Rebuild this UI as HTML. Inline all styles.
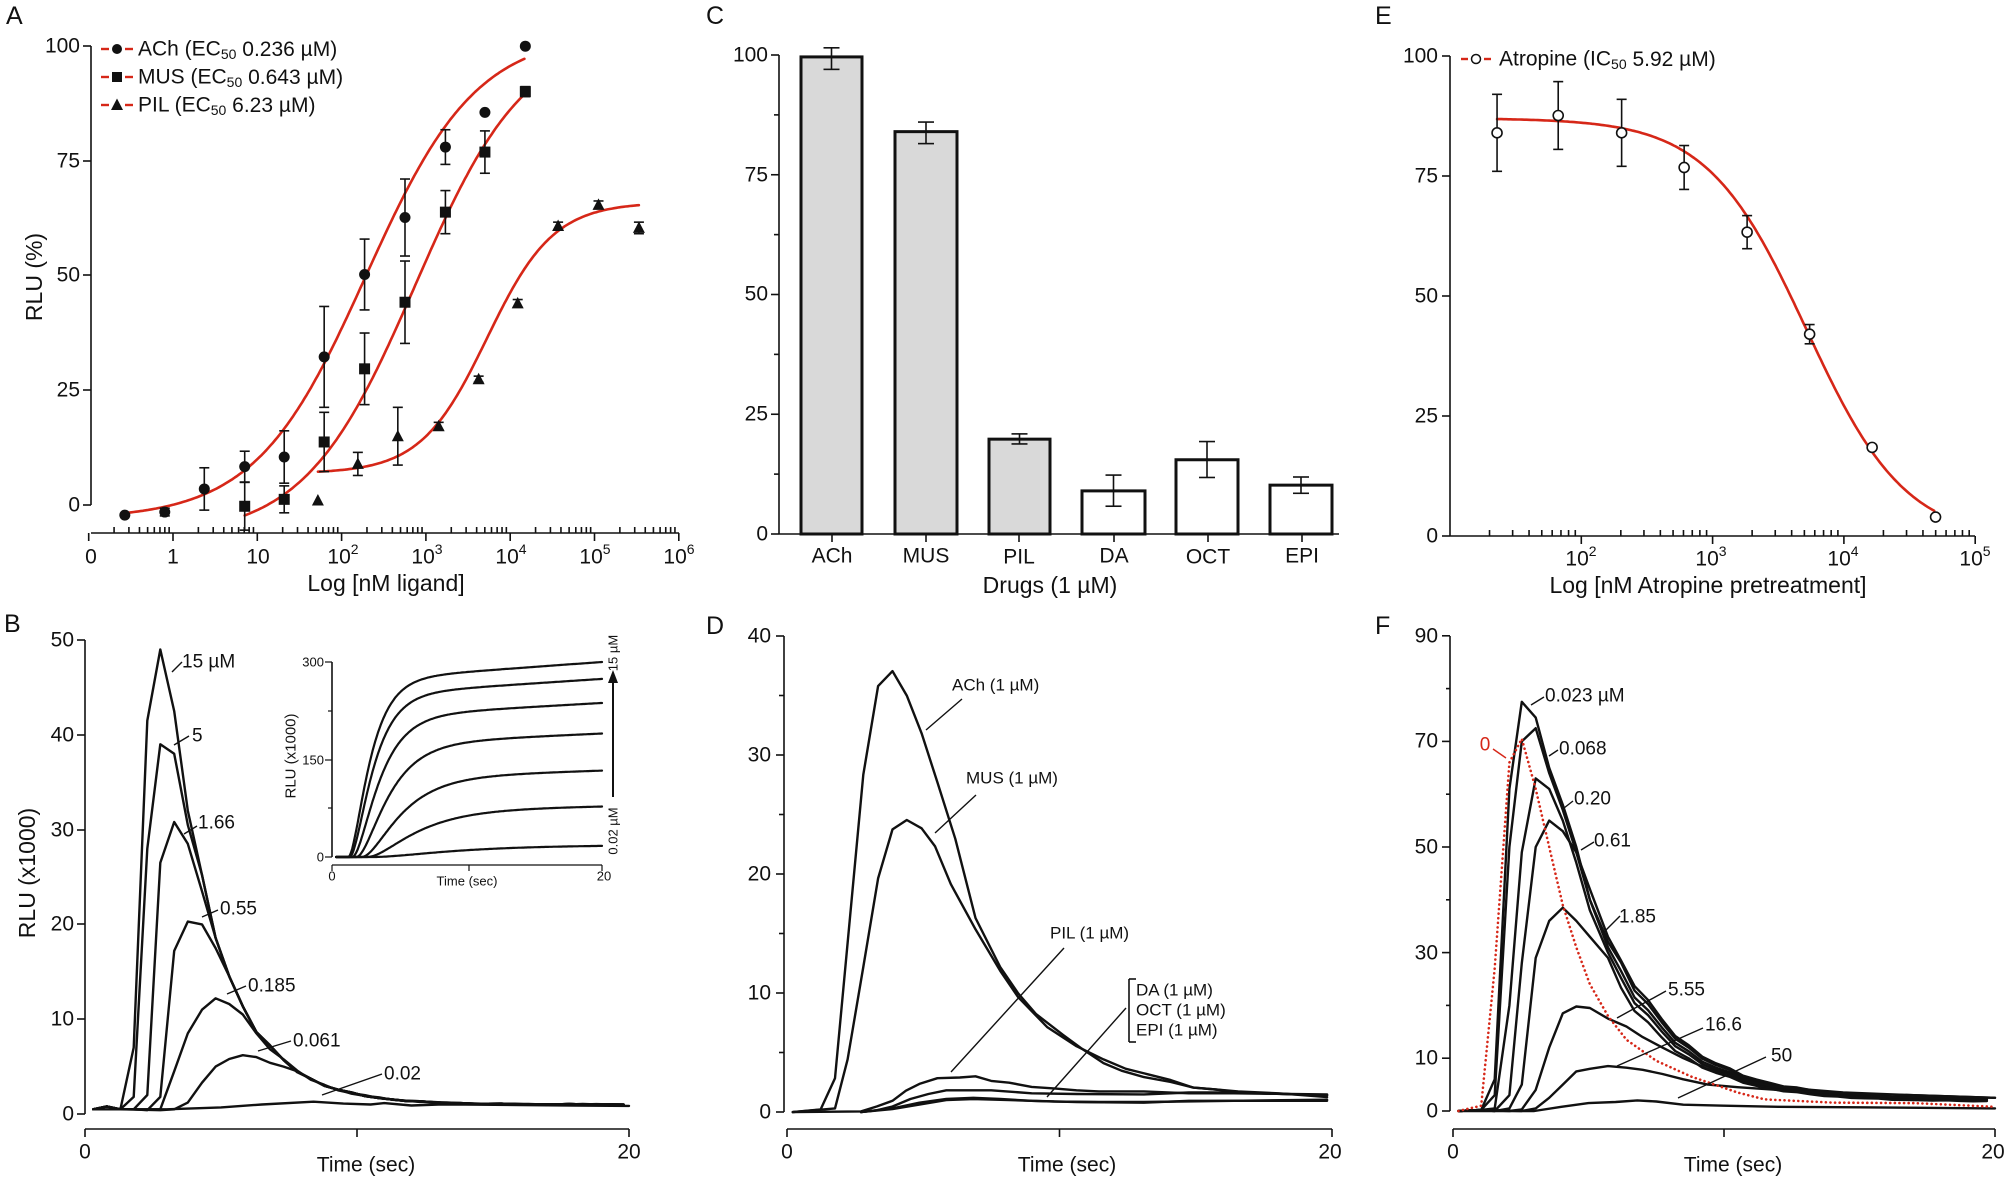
<!DOCTYPE html>
<html><head><meta charset="utf-8">
<style>
html,body{margin:0;padding:0;background:#fff;}
svg{display:block;font-family:"Liberation Sans",Arial,sans-serif;}
.t{font-size:21px;fill:#111;}
.s{font-size:19px;fill:#111;}
.m{font-size:17px;fill:#111;}
.i{font-size:13px;fill:#111;}
.L{font-size:25px;fill:#111;}
</style></head><body>
<svg id="g" width="2007" height="1178" viewBox="0 0 2007 1178" xmlns="http://www.w3.org/2000/svg">
<rect width="2007" height="1178" fill="#fff"/>
<text class="L" x="6" y="24">A</text>
<text class="L" x="706" y="24">C</text>
<text class="L" x="1375" y="24">E</text>
<text class="L" x="4" y="632">B</text>
<text class="L" x="706" y="634">D</text>
<text class="L" x="1375" y="634">F</text>

<g class="t" text-anchor="end" dominant-baseline="central">
<text x="80" y="46">100</text><text x="80" y="161">75</text><text x="80" y="275">50</text><text x="80" y="390">25</text><text x="80" y="505">0</text>
</g>
<g class="t" text-anchor="middle" dominant-baseline="central">
<text x="91" y="557">0</text><text x="173" y="557">1</text><text x="258" y="557">10</text>
<text x="343" y="557">10<tspan font-size="14" dy="-8">2</tspan></text>
<text x="427" y="557">10<tspan font-size="14" dy="-8">3</tspan></text>
<text x="511" y="557">10<tspan font-size="14" dy="-8">4</tspan></text>
<text x="595" y="557">10<tspan font-size="14" dy="-8">5</tspan></text>
<text x="679" y="557">10<tspan font-size="14" dy="-8">6</tspan></text>
<text x="386" y="583" font-size="23">Log [nM ligand]</text>
<text transform="translate(34,277) rotate(-90)" font-size="23">RLU (%)</text>
</g>
<g class="t" dominant-baseline="central">
<text x="138" y="49">ACh (EC<tspan font-size="14" dy="5">50</tspan><tspan dy="-5"> 0.236 µM)</tspan></text>
<text x="138" y="77">MUS (EC<tspan font-size="14" dy="5">50</tspan><tspan dy="-5"> 0.643 µM)</tspan></text>
<text x="138" y="105">PIL (EC<tspan font-size="14" dy="5">50</tspan><tspan dy="-5"> 6.23 µM)</tspan></text>
</g>

<g class="t" text-anchor="end" dominant-baseline="central">
<text x="768" y="55">100</text><text x="768" y="175">75</text><text x="768" y="294">50</text><text x="768" y="414">25</text><text x="768" y="534">0</text>
</g>
<g class="t" text-anchor="middle" dominant-baseline="central">
<text x="832" y="556">ACh</text><text x="926" y="556">MUS</text><text x="1019" y="557">PIL</text><text x="1114" y="556">DA</text><text x="1208" y="557">OCT</text><text x="1302" y="556">EPI</text>
<text x="1050" y="585" font-size="23">Drugs (1 µM)</text>
</g>

<g class="t" text-anchor="end" dominant-baseline="central">
<text x="1438" y="56">100</text><text x="1438" y="176">75</text><text x="1438" y="296">50</text><text x="1438" y="416">25</text><text x="1438" y="536">0</text>
</g>
<g class="t" text-anchor="middle" dominant-baseline="central">
<text x="1581" y="559">10<tspan font-size="14" dy="-8">2</tspan></text>
<text x="1711" y="559">10<tspan font-size="14" dy="-8">3</tspan></text>
<text x="1843" y="559">10<tspan font-size="14" dy="-8">4</tspan></text>
<text x="1975" y="559">10<tspan font-size="14" dy="-8">5</tspan></text>
<text x="1708" y="585" font-size="23">Log [nM Atropine pretreatment]</text>
</g>
<text class="t" x="1499" y="59" dominant-baseline="central">Atropine (IC<tspan font-size="14" dy="5">50</tspan><tspan dy="-5"> 5.92 µM)</tspan></text>

<g class="t" text-anchor="end" dominant-baseline="central">
<text x="74" y="640">50</text><text x="74" y="735">40</text><text x="74" y="830">30</text><text x="74" y="924">20</text><text x="74" y="1019">10</text><text x="74" y="1114">0</text>
</g>
<g class="t" text-anchor="middle" dominant-baseline="central">
<text x="85" y="1152">0</text><text x="629" y="1152">20</text>
<text x="366" y="1165">Time (sec)</text>
<text transform="translate(27,873) rotate(-90)" font-size="23">RLU (x1000)</text>
</g>
<g class="s" dominant-baseline="central">
<text x="182" y="662">15 µM</text><text x="192" y="736">5</text><text x="198" y="823">1.66</text>
<text x="220" y="909">0.55</text><text x="248" y="986">0.185</text><text x="293" y="1041">0.061</text><text x="384" y="1074">0.02</text>
</g>
<g class="i" dominant-baseline="central">
<text x="324" y="662" text-anchor="end">300</text><text x="324" y="760" text-anchor="end">150</text><text x="324" y="857" text-anchor="end">0</text>
<text x="332" y="876" text-anchor="middle">0</text><text x="604" y="876" text-anchor="middle">20</text>
<text x="467" y="881" text-anchor="middle">Time (sec)</text>
<text transform="translate(291,756) rotate(-90)" text-anchor="middle" font-size="15">RLU (x1000)</text>
<text transform="translate(613,653) rotate(-90)" text-anchor="middle">15 µM</text>
<text transform="translate(613,831) rotate(-90)" text-anchor="middle">0.02 µM</text>
</g>

<g class="t" text-anchor="end" dominant-baseline="central">
<text x="771" y="636">40</text><text x="771" y="755">30</text><text x="771" y="874">20</text><text x="771" y="993">10</text><text x="771" y="1112">0</text>
</g>
<g class="t" text-anchor="middle" dominant-baseline="central">
<text x="787" y="1152">0</text><text x="1330" y="1152">20</text>
<text x="1067" y="1165">Time (sec)</text>
</g>
<g class="m" dominant-baseline="central">
<text x="952" y="685">ACh (1 µM)</text><text x="966" y="778">MUS (1 µM)</text><text x="1050" y="933">PIL (1 µM)</text>
<text x="1136" y="990">DA (1 µM)</text><text x="1136" y="1010">OCT (1 µM)</text><text x="1136" y="1030">EPI (1 µM)</text>
</g>

<g class="t" text-anchor="end" dominant-baseline="central">
<text x="1438" y="636">90</text><text x="1438" y="741">70</text><text x="1438" y="847">50</text><text x="1438" y="953">30</text><text x="1438" y="1058">10</text><text x="1438" y="1111">0</text>
</g>
<g class="t" text-anchor="middle" dominant-baseline="central">
<text x="1453" y="1152">0</text><text x="1993" y="1152">20</text>
<text x="1733" y="1165">Time (sec)</text>
</g>
<g class="s" dominant-baseline="central">
<text x="1545" y="696">0.023 µM</text><text x="1485" y="745" text-anchor="middle" style="fill:#d62718">0</text>
<text x="1559" y="749">0.068</text><text x="1574" y="799">0.20</text><text x="1594" y="841">0.61</text>
<text x="1619" y="917">1.85</text><text x="1668" y="990">5.55</text><text x="1705" y="1025">16.6</text><text x="1771" y="1056">50</text>
</g>
<g id="d"></g>
</svg>
<script>
(function(){
var G=document.getElementById('d'),NS='http://www.w3.org/2000/svg';
function el(n,a){var e=document.createElementNS(NS,n);for(var k in a)e.setAttribute(k,a[k]);G.appendChild(e);return e;}
function ln(x1,y1,x2,y2,w,c){el('line',{x1:x1,y1:y1,x2:x2,y2:y2,stroke:c||'#111','stroke-width':w||1.6});}
function pl(p,c,w,da){var d='M'+p.map(function(q){return q[0].toFixed(1)+','+q[1].toFixed(1)}).join('L');var a={d:d,fill:'none',stroke:c||'#111','stroke-width':w||2.4,'stroke-linejoin':'round','stroke-linecap':'round'};if(da)a['stroke-dasharray']=da;el('path',a);}
var RED='#d62718';
ln(91,46,91,505);[46,161,275,390,505].forEach(function(y){ln(83,y,91,y)});
ln(91,533,679,533);
for(var dcd=-1;dcd<=6;dcd++){var x0=173+dcd*84.3; ln(x0,533,x0,541);
 if(dcd<6) for(var k=2;k<10;k++){var x=x0+Math.log10(k)*84.3; ln(x,533,x,527);} }
var sx=.449,sy=.385;
function curveA(a,b,lo,hi,mid,h){var p=[];for(var zx=a;zx<=b;zx+=5){var v=lo+(hi-lo)/(1+Math.pow(10,(mid-zx)/187.5*h));p.push([zx*sx,(1313-v*11.93)*sy]);}pl(p,RED,2.6);}
curveA(278,1170,-3,103,815,.66);curveA(545,1170,-7,103,925,.66);curveA(708,1423,7,66,1085,1.1);
function eb(x,y1,y2,cw){ln(x,y1,x,y2,1.6);ln(x-cw,y1,x+cw,y1,1.6);ln(x-cw,y2,x+cw,y2,1.6);}
var ach=[[278,1338,0],[367,1330,10],[455,1270,55],[545,1212,40],[633,1187,68],[722,927,131],[812,713,92],[902,565,100],[992,382,45],[1080,292,0],[1170,120,0]];
var mus=[[545,1315,62],[633,1297,35],[722,1148,77],[812,958,93],[902,785,107],[992,551,56],[1080,395,55],[1170,238,13]];
var pil=[[708,1300,0],[797,1205,30],[886,1133,75],[977,1107,10],[1066,985,8],[1153,788,10],[1243,587,10],[1333,532,10],[1423,592,15]];
function ebs(arr){arr.forEach(function(q){if(q[2])eb(q[0]*sx,(q[1]-q[2])*sy,(q[1]+q[2])*sy,5)});}
ebs(ach);ebs(mus);ebs(pil);
ach.forEach(function(q){el('circle',{cx:q[0]*sx,cy:q[1]*sy,r:5.5,fill:'#111'})});
mus.forEach(function(q){el('rect',{x:q[0]*sx-5.5,y:q[1]*sy-5.5,width:11,height:11,fill:'#111'})});
function tri(x,y,c){el('path',{d:'M'+x+','+(y-6.5)+'L'+(x+6)+','+(y+5)+'L'+(x-6)+','+(y+5)+'Z',fill:c||'#111'})}
pil.forEach(function(q){tri(q[0]*sx,q[1]*sy)});
[49,77,105].forEach(function(y,i){ln(101,y,109,y,2.4,RED);ln(125,y,133,y,2.4,RED);
 if(i==0)el('circle',{cx:117,cy:y,r:5,fill:'#111'});else if(i==1)el('rect',{x:112,y:y-5,width:10,height:10,fill:'#111'});else tri(117,y);});
ln(779,55,779,534);ln(779,534,1339,534);
for(var v=0;v<=100;v+=12.5){var y=534-v*4.79;ln(v%25==0?771:774,y,779,y);}
[832,926,1019,1114,1208,1302].forEach(function(x){ln(x,534,x,542)});
var bars=[[801,862,99.6,97,101.5,1],[895,957,84,81.5,86,1],[989,1050,19.8,18.8,20.9,1],[1082,1145,9,5.8,12.3,0],[1176,1238,15.5,11.8,19.3,0],[1270,1332,10.2,8.5,11.9,0]];
bars.forEach(function(b){var y=534-b[2]*4.79;el('rect',{x:b[0],y:y,width:b[1]-b[0],height:534-y,fill:b[5]?'#d9d9d9':'#fff',stroke:'#111','stroke-width':3});
 var xc=(b[0]+b[1])/2;eb(xc,534-b[4]*4.79,534-b[3]*4.79,8);});
ln(1450,56,1450,536);[56,176,296,416,536].forEach(function(y){ln(1442,y,1450,y)});
ln(1450,536,1975,536);
for(var dd=1;dd<=5;dd++){var xe=1450+(dd-1)*131.3; if(dd>1)ln(xe,536,xe,544); if(dd<5)for(var k=2;k<10;k++){var x=xe+Math.log10(k)*131.3;ln(x,536,x,530);} }
var ex=.453,ey=.385;var pe=[];
for(var zx=435;zx<=1403;zx+=5){var v=-1+88/(1+Math.pow(10,(zx-1118)/290*1.15));pe.push([1300+zx*ex,(1392-v*12.47)*ey]);}
pl(pe,RED,2.6);
var ep=[[435,345,100],[570,300,88],[710,345,87],[848,435,57],[987,603,43],[1125,868,25],[1263,1162,0],[1403,1343,0]];
ep.forEach(function(q){if(q[2])eb(1300+q[0]*ex,(q[1]-q[2])*ey,(q[1]+q[2])*ey,5)});
ep.forEach(function(q){el('circle',{cx:1300+q[0]*ex,cy:q[1]*ey,r:5,fill:'#fff',stroke:'#111','stroke-width':1.6})});
ln(1461,59,1468,59,2.4,RED);ln(1484,59,1491,59,2.4,RED);el('circle',{cx:1476,cy:59,r:4.5,fill:'#fff',stroke:'#111','stroke-width':1.5});
function taxis(x0,x1,y){ln(x0,y,x1,y);[x0,(x0+x1)/2,x1].forEach(function(x){ln(x,y,x,y+8)});}
function wob(i){return Math.sin(i*2.3)*0.025+Math.sin(i*5.1)*0.015;}
ln(85,640,85,1114);[640,735,830,924,1019,1114].forEach(function(y){ln(77,y,85,y)});
taxis(85,629,1129);
function TB(t){return 1+40*Math.exp(-(t-3.3)/1.85);}
function BX(t){return 85+t*27.2} function BY(v){return 1114-v*9.48}
function series(pts,tailFrom,tailF,X,Y,c,w,da,scale){var p=pts.slice();var i=0;
 if(tailFrom!==null){for(var t=tailFrom;t<=20.01;t+=0.5){i++;p.push([t,tailF(t)*(scale||1)*(1+wob(i+pts.length))]);}}
 pl(p.map(function(q){return [X(q[0]),Y(q[1])]}),c,w,da);}
var b0=[[0.3,0.5],[0.8,0.8],[1.3,0.5]];
series(b0.concat([[1.79,7],[2.29,41.5],[2.77,49],[3.28,42.5],[3.78,32]]),4.3,TB,BX,BY);
series(b0.concat([[1.79,1.8],[2.29,28],[2.77,39],[3.28,38],[3.78,30.5]]),4.3,TB,BX,BY);
series(b0.concat([[1.79,0.5],[2.29,2],[2.77,26.5],[3.28,30.8],[3.78,28.5],[4.3,23.5]]),4.8,TB,BX,BY);
series(b0.concat([[1.79,0.5],[2.29,0.4],[2.77,1.8],[3.28,17.2],[3.78,20.3],[4.3,20],[4.8,17.5]]),5.3,TB,BX,BY);
series(b0.concat([[2.29,0.5],[2.77,0.5],[3.28,4.5],[3.78,8.5],[4.3,11],[4.8,12.2],[5.3,11.6],[5.8,10.5],[6.3,8.5]]),6.8,TB,BX,BY);
series(b0.concat([[2.77,0.4],[3.28,0.5],[3.78,1.2],[4.3,3.3],[4.8,5],[5.3,5.8],[5.8,6.2],[6.3,6.0],[6.8,5.4],[7.3,5],[7.8,4.5]]),8.3,TB,BX,BY);
series([[0.3,0.5],[3,0.5],[5,0.7],[6.5,1.0],[8.4,1.3],[9.5,1.1],[10.5,1.0],[11,1.15],[12,0.9],[13,1.0],[14,1.0],[16,0.95],[18,0.9],[20,0.85]],null,null,BX,BY);
[[172,672,182,662],[174,745,189,736],[184,834,197,826],[202,917,218,910],[227,994,246,986],[258,1051,291,1041],[322,1095,382,1074]].forEach(function(a){ln(a[0],a[1],a[2],a[3],1.4)});
ln(332,662,332,857);[662,711,760,808,857].forEach(function(y,i){ln(i%2?328:325,y,332,y,1.2)});
ln(332,865,602,865,1.2);[332,469,602].forEach(function(x){ln(x,865,x,871,1.2)});
var IP=[300,274,237,190,133,78,18],t0=[1.2,1.3,1.5,1.8,2.2,2.6,3.0],tau=[1.2,1.3,1.5,1.8,2.2,2.8,4.5];
IP.forEach(function(P,j){var p=[];for(var t=0.3;t<=20.001;t+=0.1){var x=Math.max(0,(t-t0[j])/tau[j]);var g=1-Math.exp(-x*x/(x+1));var v=P*(0.9*g+0.1*g*(t/20));p.push([332+t*13.5,857-v*0.65]);}pl(p,'#111',2.2);});
ln(613,797,613,680,2);el('path',{d:'M613,670L608,683L618,683Z',fill:'#111'});
ln(784,636,784,1112);for(var v=0;v<=40;v+=5){var y=1112-v*11.9;ln(v%10==0?776:779,y,784,y);}
taxis(787,1332,1129);
function dz(a){pl(a.map(function(q){return [650+q[0]*.449,590+q[1]*.377]}),'#111',2.4);}
dz([[318,1385],[380,1378],[412,1295],[475,490],[508,255],[540,215],[572,280],[605,380],[640,510],[680,660],[725,870],[780,1000],[820,1070],[860,1125],[920,1180],[960,1215],[1010,1255],[1050,1275],[1100,1292],[1160,1305],[1210,1320],[1260,1325],[1310,1332],[1360,1335],[1410,1337],[1508,1340]]);
dz([[318,1385],[412,1375],[440,1245],[475,1000],[508,765],[540,635],[572,610],[605,632],[635,680],[670,780],[725,900],[780,1010],[820,1080],[885,1160],[950,1210],[1010,1245],[1060,1270],[1110,1285],[1160,1300],[1210,1320],[1260,1325],[1310,1330],[1400,1335],[1508,1345]]);
dz([[318,1385],[470,1383],[505,1370],[540,1355],[570,1328],[600,1310],[640,1295],[690,1293],[725,1290],[760,1302],[800,1307],[850,1318],[900,1322],[950,1327],[1000,1330],[1100,1330],[1200,1335],[1300,1335],[1508,1338]]);
dz([[470,1385],[505,1380],[540,1370],[580,1350],[620,1337],[660,1327],[760,1327],[850,1335],[950,1337],[1100,1338],[1200,1333],[1300,1333],[1508,1340]]);
dz([[470,1385],[540,1375],[600,1360],[660,1350],[720,1347],[780,1350],[850,1355],[950,1358],[1100,1360],[1200,1355],[1300,1355],[1508,1352]]);
dz([[470,1385],[540,1377],[600,1365],[660,1353],[720,1350],[800,1353],[900,1357],[1000,1358],[1100,1358],[1300,1355],[1508,1355]]);
[[926,730,962,699],[935,833,976,795],[951,1072,1064,948],[1047,1097,1126,1008]].forEach(function(a){ln(a[0],a[1],a[2],a[3],1.4)});
ln(1129,979,1129,1042,1.6);ln(1129,979,1136,979,1.6);ln(1129,1042,1136,1042,1.6);
ln(1450,636,1450,1111);[0,10,30,50,70,90].forEach(function(v){ln(1442,1111-v*5.28,1450,1111-v*5.28)});
[20,40,60,80].forEach(function(v){ln(1446,1111-v*5.28,1450,1111-v*5.28)});
taxis(1453,1995,1129);
function FX(t){return 1453+t*27.1} function FY(v){return 1111-v*5.28}
function TF(t){return 2+26*Math.exp(-(t-6.05)/2.55);}
var f0=[[0.2,0],[1.04,0.2]];
series(f0.concat([[1.54,6],[2.08,61],[2.54,77.5],[3.05,74.5],[3.55,65],[4.05,58],[4.55,50],[5.05,40],[5.72,32]]),6.2,function(t){return TF(t)*1.06},FX,FY);
series(f0.concat([[1.54,3],[2.08,50],[2.54,70],[3.05,72.5],[3.55,64],[4.05,57],[4.55,49],[5.05,40],[5.72,31]]),6.2,TF,FX,FY);
series(f0.concat([[1.54,0.5],[2.08,20],[2.54,49],[3.05,63],[3.55,61],[4.05,55],[4.55,47],[5.05,38],[5.72,30]]),6.2,function(t){return TF(t)*0.95},FX,FY);
series(f0.concat([[1.54,0],[2.08,3],[2.54,28],[3.05,50],[3.55,55],[4.05,53],[4.55,49],[5.05,42],[5.72,33],[6.2,28.5]]),6.7,function(t){return TF(t)*1.1},FX,FY);
series(f0.concat([[1.54,0],[2.08,0.5],[2.54,5],[3.05,29],[3.55,36],[4.05,38.5],[4.55,36],[5.05,33],[5.72,29]]),6.2,function(t){return TF(t)*0.88},FX,FY);
series(f0.concat([[2.08,0],[2.54,0.3],[3.05,4],[3.55,12],[4.05,18.5],[4.55,19.8],[5.05,19.5],[5.72,17.5],[6.4,16],[7.0,14],[7.73,12],[8.5,10],[9.4,8],[10.5,6],[12,4.5],[14.4,3.5],[17,3],[20,2.5]]),null,null,FX,FY);
series(f0.concat([[2.54,0],[3.05,0.5],[3.55,2.5],[4.05,5],[4.55,7.5],[5.05,8],[5.72,8.5],[6.4,8.2],[7.0,7.8],[7.73,7],[8.5,6],[9.4,5],[10.5,4.5],[12,4],[14.4,3.3],[17,3],[20,2.5]]),null,null,FX,FY);
series([[0.2,0],[3,0],[4,0.8],[5,1.5],[6,1.7],[6.8,2],[7.5,1.8],[8.5,1.2],[10,1.0],[12,0.8],[15,0.7],[20,0.5]],null,null,FX,FY);
series([[0.2,0],[1.04,1],[1.54,27],[2.08,66],[2.54,70.5],[3.05,61],[3.55,50],[4.05,39],[4.55,31],[5.05,24],[5.72,18],[6.4,13.5],[7.5,9.5],[8.8,6.5],[10.5,3.5],[11.5,2.2],[14,1.6],[17,1.5],[20,0.8]],null,null,FX,FY,RED,2.6,'0.1 4.5');
[[1531,705,1544,697],[1549,756,1558,750],[1564,808,1573,801],[1581,850,1594,842],[1603,933,1620,916],[1617,1018,1666,991],[1617,1066,1703,1028],[1678,1098,1766,1057]].forEach(function(a){ln(a[0],a[1],a[2],a[3],1.4)});
ln(1493,749,1506,758,1.4,RED);
})();
</script>
</body></html>
